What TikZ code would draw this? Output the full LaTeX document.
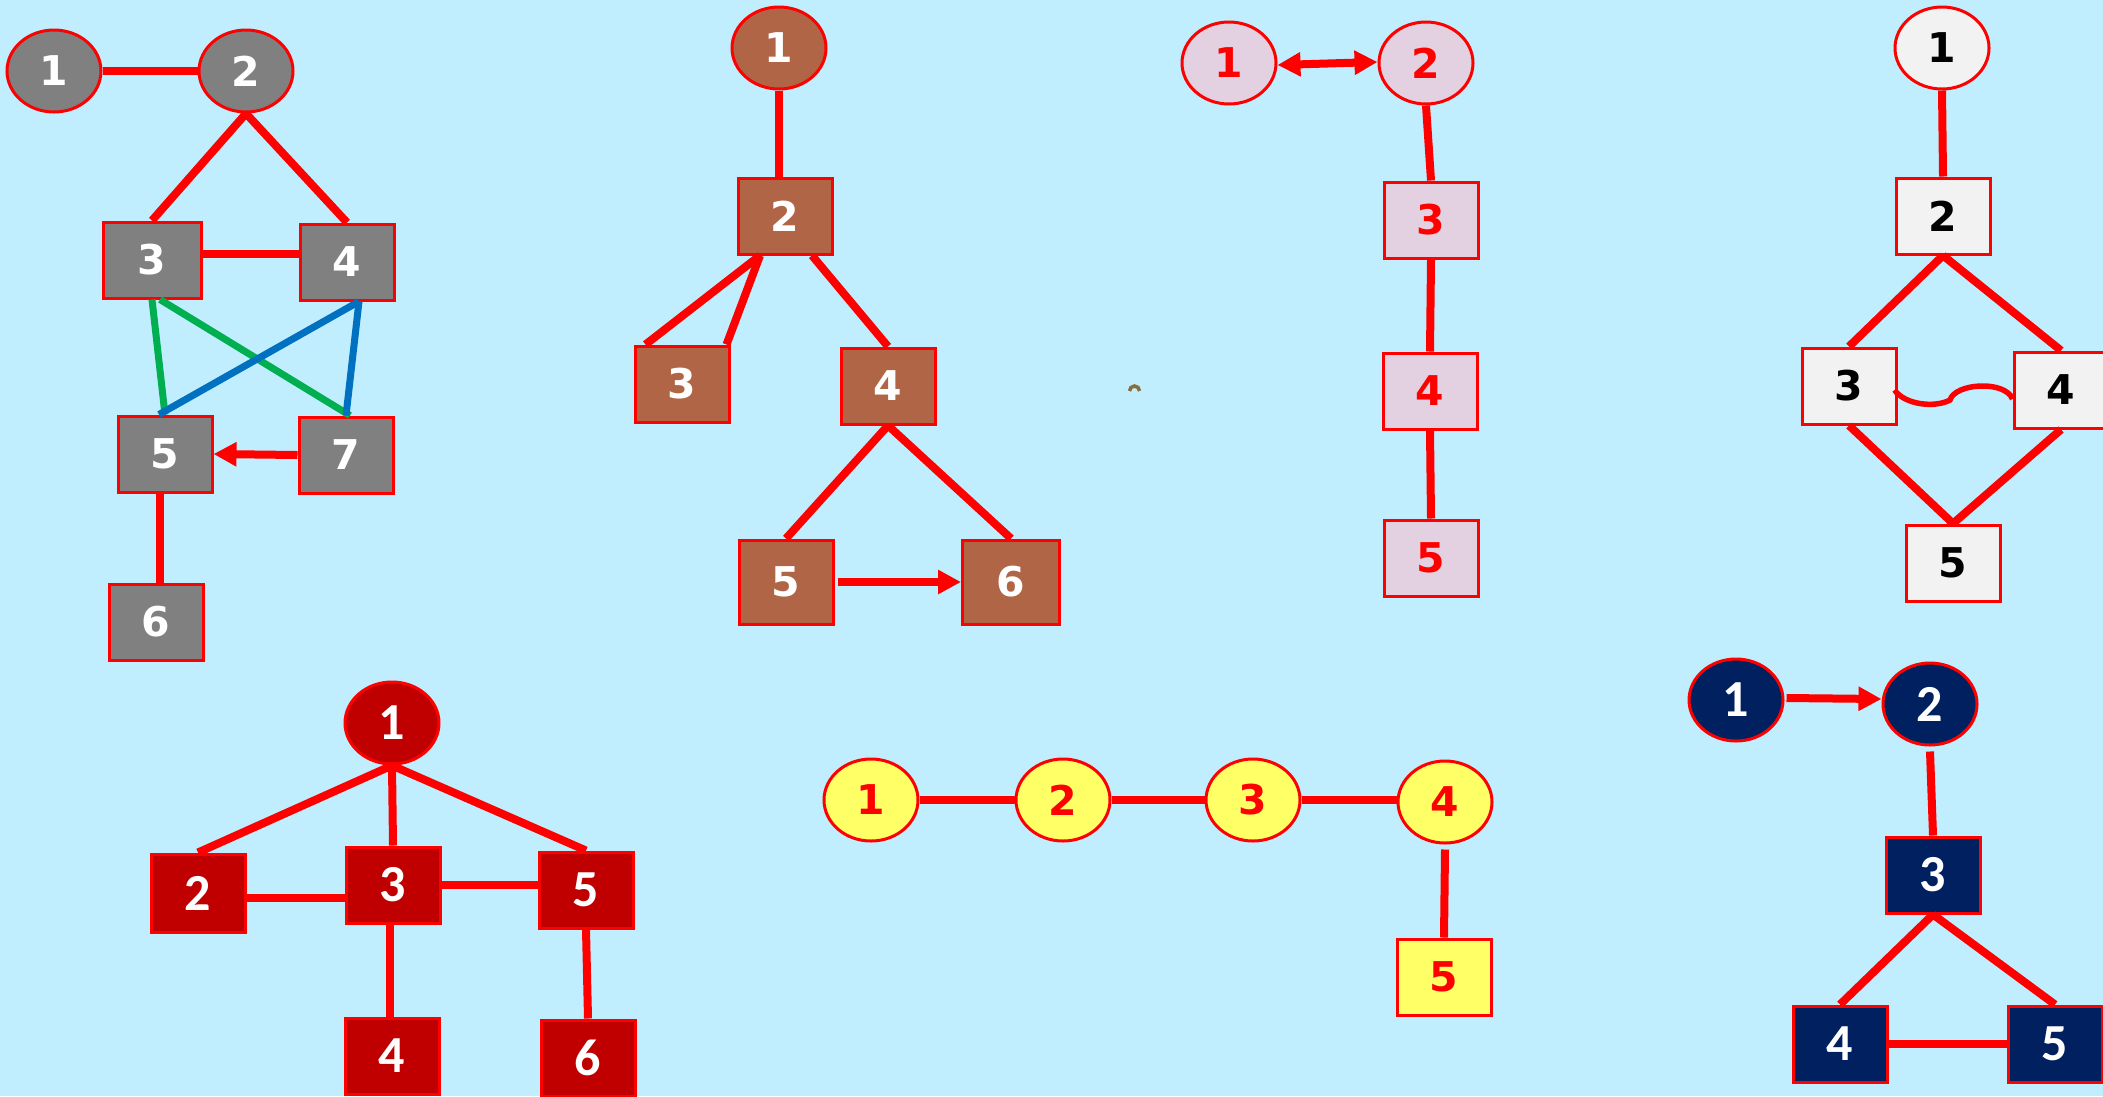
\documentclass[tikz,border=0pt]{standalone}
\usepackage{fontspec}
\newfontfamily\dvfam{DejaVu Sans}
\newfontfamily\cbfam{Carlito}
\usetikzlibrary{shapes.geometric,arrows.meta}
\definecolor{bgc}{RGB}{193,238,254}
\definecolor{grayA}{RGB}{128,128,128}
\definecolor{brownB}{RGB}{176,102,70}
\definecolor{pinkC}{RGB}{227,208,224}
\definecolor{whiteD}{RGB}{242,242,242}
\definecolor{redE}{RGB}{192,0,0}
\definecolor{yellowF}{RGB}{255,255,102}
\definecolor{navyG}{RGB}{0,32,96}
\definecolor{greenL}{RGB}{0,176,80}
\definecolor{blueL}{RGB}{0,112,192}
\definecolor{artc}{RGB}{135,110,60}
\definecolor{lred}{RGB}{255,0,0}
\tikzset{
  base/.style={draw=lred, line width=3pt, inner sep=0pt, minimum width=94pt},
  ell/.style={base, ellipse, minimum height=82pt},
  box/.style={base, rectangle, minimum height=76pt},
  dvtext/.style={font=\dvfam\bfseries\fontsize{41}{41}\selectfont},
  cbtext/.style={font=\cbfam\bfseries\fontsize{52}{52}\selectfont},
  gA/.style={fill=grayA, text=white, dvtext},
  gB/.style={fill=brownB, text=white, dvtext},
  gC/.style={fill=pinkC, text=lred, dvtext},
  gD/.style={fill=whiteD, text=black, dvtext},
  gE/.style={fill=redE, text=white, cbtext},
  gF/.style={fill=yellowF, text=lred, dvtext},
  gG/.style={fill=navyG, text=white, cbtext},
  edge/.style={draw=lred, line width=8pt},
  gedge/.style={draw=greenL, line width=7pt},
  bedge/.style={draw=blueL, line width=7pt},
  arr/.style={edge, -{Triangle[length=23pt,width=23pt]}},
  darr/.style={edge, {Triangle[length=23pt,width=23pt]}-{Triangle[length=23pt,width=23pt]}},
}
\begin{document}
\begin{tikzpicture}[x=1pt,y=-1pt]
\useasboundingbox (0,0) rectangle (2103,1096);
\clip (0,0) rectangle (2103,1096);
\fill[bgc] (0,0) rectangle (2103,1096);

% Graph A
\node[ell,gA] (a1) at (54,71) {1};
\node[ell,gA] (a2) at (246,71) {2};
\node[box,gA,minimum width=98pt] (a3) at (152,260) {3};
\node[box,gA] (a4) at (347,262) {4};
\node[box,gA] (a5) at (165,454) {5};
\node[box,gA] (a7) at (346,455) {7};
\node[box,gA] (a6) at (156,622) {6};
\draw[edge] (a1.east) -- (a2.west);
\draw[edge] (a2.south) -- (a3.north);
\draw[edge] (a2.south) -- (a4.north);
\draw[edge] ([yshift=6pt]a3.east) -- ([yshift=6pt]a3.east -| a4.west);
\draw[gedge] (a3.south) -- (a5.north);
\draw[gedge] ([xshift=8pt]a3.south) -- ([xshift=4pt]a7.north);
\draw[bedge] ([xshift=12pt]a4.south) -- ([xshift=-6pt]a5.north);
\draw[bedge] ([xshift=12pt]a4.south) -- (a7.north);
\draw[arr] (a7.west) -- (a5.east);
\draw[edge] ([xshift=-5pt]a5.south) -- ([xshift=-5pt]a5.south |- a6.north);

% Graph B
\node[ell,gB] (b1) at (779,48) {1};
\node[box,gB] (b2) at (785,216) {2};
\node[box,gB] (b3) at (682,384) {3};
\node[box,gB] (b4) at (888,386) {4};
\node[box,gB,minimum height=84pt] (b5) at (786,582) {5};
\node[box,gB,minimum height=84pt,minimum width=97pt] (b6) at (1011,582) {6};
\draw[edge] (b1.south) -- (b1.south |- b2.north);
\draw[edge] ([xshift=-25pt]b2.south) -- ([xshift=12pt]b3.north west);
\draw[edge] ([xshift=-25pt]b2.south) -- ([xshift=-4pt]b3.north east);
\draw[edge] ([xshift=27pt]b2.south) -- (b4.north);
\draw[edge] (b4.south) -- (b5.north);
\draw[edge] (b4.south) -- (b6.north);
\draw[arr] ([xshift=3pt]b5.east) -- (b6.west);

% Graph C
\node[ell,gC] (c1) at (1229,63) {1};
\node[ell,gC] (c2) at (1426,63) {2};
\node[box,gC] (c3) at (1431,220) {3};
\node[box,gC] (c4) at (1430,391) {4};
\node[box,gC] (c5) at (1431,558) {5};
\draw[darr] ([yshift=-2pt]c1.east) -- ([yshift=1pt]c2.west);
\draw[edge] (c2.south) -- (c3.north);
\draw[edge] (c3.south) -- (c4.north);
\draw[edge] (c4.south) -- (c5.north);

% Graph D
\node[ell,gD] (d1) at (1942,48) {1};
\node[box,gD] (d2) at (1943,216) {2};
\node[box,gD] (d3) at (1849,386) {3};
\node[box,gD] (d4) at (2061,390) {4};
\node[box,gD] (d5) at (1953,563) {5};
\draw[edge] (d1.south) -- (d2.north);
\draw[edge] (d2.south) -- (d3.north);
\draw[edge] (d2.south) -- (d4.north);
\draw[edge] (d3.south) -- (d5.north);
\draw[edge] (d4.south) -- (d5.north);
\draw[draw=lred, line width=5.5pt] ([xshift=-3pt,yshift=-4pt]d3.east) .. controls (1905,405) and (1935,408) .. (1950,400) .. controls (1955,383) and (2005,380) .. ([yshift=-9pt]d4.west);

% small mark
\draw[artc, line width=3.5pt] (1129.5,391) arc[start angle=180, end angle=360, radius=5];

% Graph E
\node[ell,gE] (e1) at (392,723) {1};
\node[box,gE,minimum height=78pt] (e2) at (198,893) {2};
\node[box,gE] (e3) at (393,885) {3};
\node[box,gE] (e5) at (586,890) {5};
\node[box,gE] (e4) at (392,1056) {4};
\node[box,gE] (e6) at (588,1058) {6};
\draw[edge] (e1.south) -- (e2.north);
\draw[edge] (e1.south) -- (e3.north);
\draw[edge] (e1.south) -- (e5.north);
\draw[edge] ([yshift=-5pt]e2.east) -- ([yshift=-5pt]e2.east -| e3.west);
\draw[edge] (e3.east) -- (e3.east -| e5.west);
\draw[edge] ([xshift=-3pt]e3.south) -- ([xshift=-3pt]e3.south |- e4.north);
\draw[edge] (e5.south) -- (e6.north);

% Graph F
\node[ell,gF] (f1) at (871,800) {1};
\node[ell,gF] (f2) at (1063,800) {2};
\node[ell,gF] (f3) at (1253,800) {3};
\node[ell,gF] (f4) at (1445,802) {4};
\node[box,gF] (f5) at (1444,977) {5};
\draw[edge] (f1.east) -- (f2.west);
\draw[edge] (f2.east) -- (f3.west);
\draw[edge] (f3.east) -- (f3.east -| f4.west);
\draw[edge] ([yshift=-5pt]f4.south) -- (f5.north);

% Graph G
\node[ell,gG] (g1) at (1736,700) {1};
\node[ell,gG] (g2) at (1930,704) {2};
\node[box,gG] (g3) at (1933,875) {3};
\node[box,gG] (g4) at (1840,1044) {4};
\node[box,gG] (g5) at (2055,1044) {5};
\draw[arr] ([xshift=2pt,yshift=2pt]g1.east) -- ([yshift=5pt]g2.west);
\draw[edge] ([yshift=-5pt]g2.south) -- (g3.north);
\draw[edge] (g3.south) -- (g4.north);
\draw[edge] (g3.south) -- (g5.north);
\draw[edge] (g4.east) -- (g5.west);
\end{tikzpicture}
\end{document}
